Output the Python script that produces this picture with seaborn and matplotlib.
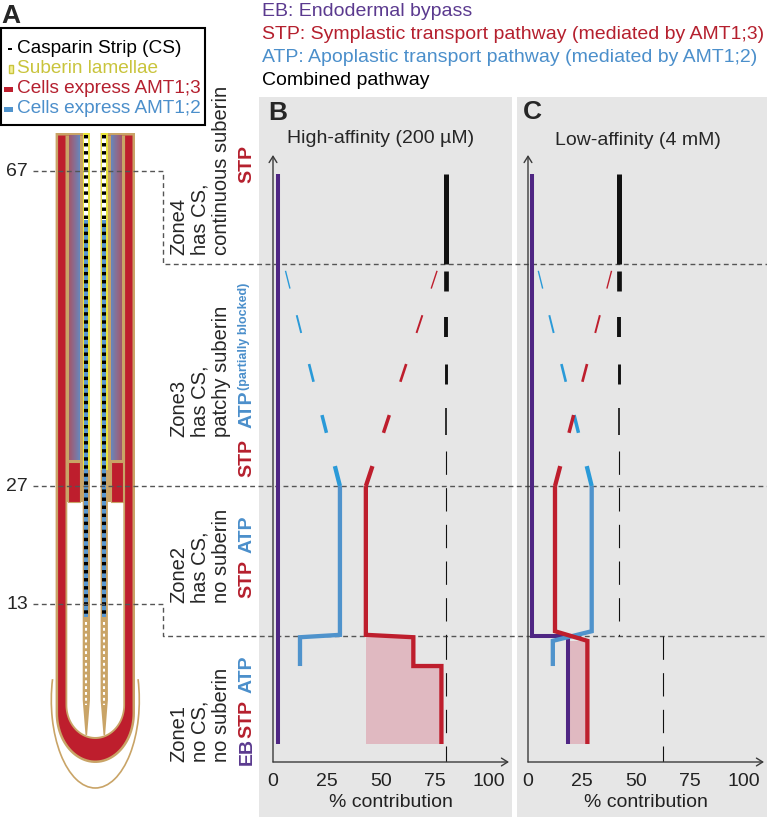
import numpy as np
import pandas as pd
import matplotlib
matplotlib.use('Agg')
import matplotlib.pyplot as plt
import matplotlib.transforms as mtransforms
from matplotlib.patches import Rectangle, Polygon, Arc
from matplotlib.colors import LinearSegmentedColormap
import seaborn as sns

# positions along the root (vertical scale of panels B and C)
y_top, y_z4, y_z3, y_z2, y_step, y_bot = 98, 83, 46, 21, 16, 3

# B: high-affinity (200 uM), % contribution
b_eb = [2.5, 2.5]              # zones 4-2, zone 1
b_stp = [77, 43, 65, 78]       # zone3 top, zone2, zone1 upper, zone1 lower
b_atp = [5, 31, 12.5]          # zone3 top, zone2, zone1
b_comb = [80, 80]              # zones 4-2, zone 1
b_fill_left = 43

# C: low-affinity (4 mM)
c_eb = [2, 18.5]
c_stp = [39.5, 12.5, 27.5, 27.5]
c_atp = [4, 29.5, 11.5]
c_comb = [42, 62.5]
c_fill_left = 18.5

x_ticks = [0, 25, 50, 75, 100]
root_marks = ['67', '27', '13']
root_mark_y = [98.5, 46, 26.3]
zone_edges = [y_z4, y_z3, y_z2]

path_names = ['EB: Endodermal bypass',
              'STP: Symplastic transport pathway (mediated by AMT1;3)',
              'ATP: Apoplastic transport pathway (mediated by AMT1;2)',
              'Combined pathway']
zone_text = [['Zone4', 'has CS,', 'continuous suberin'], ['Zone3', 'has CS,', 'patchy suberin'],
             ['Zone2', 'has CS,', 'no suberin'], ['Zone1', 'no CS,', 'no suberin']]

PURPLE = '#4f2683'
RED = '#be1e2d'
BLUE = '#4f93cc'
CYAN = '#2a9ad8'
BLACK = '#111111'
PINK = '#e0b9c1'
GRAY = '#e6e6e6'
DASH = '#555555'
TAN = '#c9a467'
YELLOW = '#e9e43c'
PURPLE_T = '#5b3a8f'
RED_T = '#b5202e'
BLUE_T = '#4b8fcb'
YELLOW_T = '#c9c43c'
TXT = 14

sns.set_style('white')
plt.rcParams['font.family'] = ['Liberation Sans', 'DejaVu Sans']

W, H = 767, 817
fig = plt.figure(figsize=(W / 100, H / 100), dpi=100)


def box(l, t, r, b):
    return [l / W, 1 - b / H, (r - l) / W, (b - t) / H]


ov = fig.add_axes([0, 0, 1, 1])
ov.axis('off')
ov.set_zorder(0)
axB = fig.add_axes(box(273, 155, 509, 762))
axC = fig.add_axes(box(528, 155, 764, 762))
X_MAX, Y_MAX = 109.3, 101.2

# grey panel backgrounds
ov.add_patch(Rectangle((259, 97), 253, 720, fc=GRAY, ec='none', zorder=0))
ov.add_patch(Rectangle((517, 97), 250, 720, fc=GRAY, ec='none', zorder=0))

# dash/taper styling for zone 3
dash_t = [(0.03, 0.11), (0.23, 0.31), (0.45, 0.53), (0.68, 0.76), (0.91, 1.0)]
dash_w = [1.0, 1.4, 1.9, 2.5, 3.1]
comb_t = [(0.03, 0.12), (0.24, 0.33), (0.45, 0.54), (0.65, 0.77)]
comb_w = [3.4, 2.8, 2.1, 1.2]


def zone3(ax, top, bottom, color, t_list, w_list):
    for (t0, t1), w in zip(t_list, w_list):
        xs = [top + (bottom - top) * t for t in (t0, t1)]
        ys = [y_z4 + (y_z3 - y_z4) * t for t in (t0, t1)]
        ax.plot(xs, ys, color=color, lw=w, solid_capstyle='butt')


def path(ax, xs, ys, color, lw):
    df = pd.DataFrame({'x': xs, 'y': ys})
    sns.lineplot(data=df, x='x', y='y', sort=False, estimator=None, color=color,
                 lw=lw, ax=ax, solid_joinstyle='miter', solid_capstyle='butt')


def panel(ax, eb, stp, atp, comb, fill_left, k):
    ax.fill_betweenx([y_bot, y_step, y_step, y_z2 - k], fill_left,
                     [stp[3], stp[3], stp[2], stp[2]], color=PINK, lw=0)
    path(ax, [eb[0], eb[0], eb[1], eb[1]], [y_top, y_z2, y_z2, y_bot], PURPLE, 2.9)
    # combined
    path(ax, [comb[0], comb[0]], [y_top, y_z4], BLACK, 3.6)
    zone3(ax, comb[0], comb[0], BLACK, comb_t, comb_w)
    ax.plot([comb[0]] * 2, [y_z4 + (y_z3 - y_z4) * 0.84, y_z2], color=BLACK, lw=0.8, dashes=(21, 12))
    ax.plot([comb[1]] * 2, [y_z2, 0], color=BLACK, lw=0.8, dashes=(21, 12))
    # ATP
    zone3(ax, atp[0], atp[1], CYAN, dash_t, dash_w)
    path(ax, [atp[1], atp[1], atp[2], atp[2]], [y_z3, y_z2 + k, y_z2 - k, y_step], BLUE, 3.1)
    # STP
    zone3(ax, stp[0], stp[1], RED, dash_t, dash_w)
    path(ax, [stp[1], stp[1], stp[2], stp[2], stp[3], stp[3]],
         [y_z3, y_z2 + k, y_z2 - k, y_step, y_step, y_bot], RED, 3.1)

    ax.set_xlim(0, X_MAX)
    ax.set_ylim(0, Y_MAX)
    ax.set_xticks(x_ticks)
    ax.set_yticks([])
    ax.tick_params(axis='x', length=0, pad=8, labelsize=TXT, colors='#222222')
    for s in ax.spines.values():
        s.set_visible(False)
    ax.set_xlabel('% contribution', fontsize=TXT, labelpad=3, color='#222222')
    ax.set_ylabel('')
    ax.patch.set_visible(False)
    ax.set_zorder(2)
    arrow = dict(arrowstyle='->,head_length=0.45,head_width=0.28', color='#3a3a3a',
                 lw=1, shrinkA=0, shrinkB=0)
    for xy in [(0, Y_MAX), (X_MAX, 0)]:
        a = ax.annotate('', xy=xy, xytext=(0, 0), arrowprops=arrow, annotation_clip=False)
        a.arrow_patch.set_clip_on(False)


panel(axB, b_eb, b_stp, b_atp, b_comb, b_fill_left, 0.2)
panel(axC, c_eb, c_stp, c_atp, c_comb, c_fill_left, 0.8)

# ---- panel A: root diagram ----
c = 95.3


def u_shape(hw, top, ry, base=713, **kw):
    th = np.linspace(0, np.pi, 50)
    pts = [(c - hw, top), (c + hw, top)] + list(zip(c + hw * np.cos(th), base + ry * np.sin(th)))
    return Polygon(pts, closed=True, **kw)


ov.add_patch(Arc((c, 700), 88, 176, theta1=-26, theta2=206, color=TAN, lw=1.2, zorder=1))
ov.add_patch(u_shape(39.7, 133, 50, fc=TAN, ec='none', zorder=1))
ov.add_patch(u_shape(37.2, 135.5, 47.5, fc=RED, ec='none', zorder=1))
ov.add_patch(u_shape(29.8, 135.5, 34, base=705, fc=TAN, ec='none', zorder=1))
ov.add_patch(u_shape(28, 502, 32, base=705, fc='white', ec='none', zorder=1))
ov.add_patch(Rectangle((c - 5.3, 131), 10.6, 380, fc='white', ec='none', zorder=1))

grad_cmap = LinearSegmentedColormap.from_list('rb', ['#a4566a', '#8a6e92', '#6688bd'])
grad = np.linspace(0, 1, 60).reshape(1, -1)
for side in (-1, 1):
    l, r = sorted([c + side * 26.3, c + side * 15.3])
    ov.imshow(grad if side < 0 else grad[:, ::-1], extent=(l, r, 460, 135.5), aspect='auto',
              cmap=grad_cmap, zorder=2)
    ov.add_patch(Rectangle((l - (1.2 if side < 0 else 0), 462), 12.2, 40, fc=RED, ec=TAN, lw=0.8, zorder=2))
    inner, outer = c + side * 5.3, c + side * 12.6
    mid = c + side * 8.95
    ov.add_patch(Polygon([(outer, 133), (outer, 700), (c + side * 9.8, 735), (c + side * 8.2, 735),
                          (inner, 700), (inner, 133)], closed=True, fc=TAN, ec='none', zorder=2))
    ov.add_patch(Rectangle((min(inner, outer), 133), 7.3, 337, fc=YELLOW, ec='none', zorder=2))
    ov.add_patch(Rectangle((mid - 2, 135), 4, 85, fc='white', ec='none', zorder=3))
    ov.add_patch(Rectangle((mid - 2, 220), 4, 397, fc='#5a98d0', ec='none', zorder=3))
    ov.plot([mid, mid], [135, 617], color='black', lw=2.9, dashes=(0.85, 1.15), zorder=4)
    ov.plot([mid, mid], [622, 705], color='white', lw=1.5, dashes=(1.4, 1.4), zorder=4)

# legend box of panel A
ov.add_patch(Rectangle((1, 28), 204, 97, fc='white', ec='black', lw=1.5, zorder=5))
ov.add_patch(Rectangle((7.5, 47.5), 4, 2.6, fc='black', ec='none', zorder=6))
ov.add_patch(Rectangle((8.5, 64.5), 4, 8, fc='#f4f09c', ec=YELLOW_T, lw=1, zorder=6))
ov.add_patch(Rectangle((3.5, 86.5), 9.5, 5, fc=RED, ec='none', zorder=6))
ov.add_patch(Rectangle((3.5, 106.5), 9.5, 5, fc=BLUE, ec='none', zorder=6))
for txt, col, yy in zip(['Casparin Strip (CS)', 'Suberin lamellae', 'Cells express AMT1;3',
                         'Cells express AMT1;2'], ['black', YELLOW_T, RED_T, BLUE_T],
                        [48.5, 68.5, 88.5, 108.5]):
    ov.text(17, yy, txt, color=col, fontsize=13.7, ha='left', va='center', zorder=6)

# connectors from root positions to zone boundaries
trans = mtransforms.blended_transform_factory(ov.transData, axB.transData)
for lab, ym, yb in zip(root_marks, root_mark_y, zone_edges):
    ov.plot([33, 163, 163, W], [ym, ym, yb, yb], transform=trans, color=DASH, lw=1,
            dashes=(3.5, 2.5), zorder=7)
    ov.text(28, ym, lab, transform=trans, ha='right', va='center', fontsize=TXT)

# zone descriptions (rotated, one text per line)
for lines, yb in zip(zone_text, [255, 437, 603, 762]):
    for line, xc in zip(lines, [178.5, 200, 221.5]):
        ov.text(xc, yb, line, rotation=90, ha='center', va='bottom', fontsize=14.5)
path_labels = [('STP', RED_T, 183), ('STP', RED_T, 477), ('ATP', BLUE_T, 428),
               ('STP', RED_T, 598), ('ATP', BLUE_T, 553),
               ('EB', PURPLE_T, 765), ('STP', RED_T, 738), ('ATP', BLUE_T, 693)]
for txt, col, yb in path_labels:
    ov.text(247, yb, txt, rotation=90, ha='center', va='bottom', color=col,
            fontsize=TXT, fontweight='bold')
ov.text(244, 390, '(partially blocked)', rotation=90, ha='center', va='bottom', color=BLUE_T,
        fontsize=9, fontweight='bold')

# headers
for i, (txt, col) in enumerate(zip(path_names, [PURPLE_T, RED_T, BLUE_T, 'black'])):
    ov.text(262, 11.5 + 23 * i, txt, color=col, fontsize=TXT, ha='left', va='center')
ov.text(11, 16, 'A', fontsize=19, fontweight='bold', ha='center', va='center')
ov.text(278, 113, 'B', fontsize=19, fontweight='bold', ha='center', va='center')
ov.text(532, 112, 'C', fontsize=19, fontweight='bold', ha='center', va='center')
ov.text(381, 138, 'High-affinity (200 µM)', fontsize=TXT, ha='center', va='center')
ov.text(638, 140, 'Low-affinity (4 mM)', fontsize=TXT, ha='center', va='center')

ov.set_xlim(0, W)
ov.set_ylim(H, 0)

fig.savefig('out.png', dpi=100)
